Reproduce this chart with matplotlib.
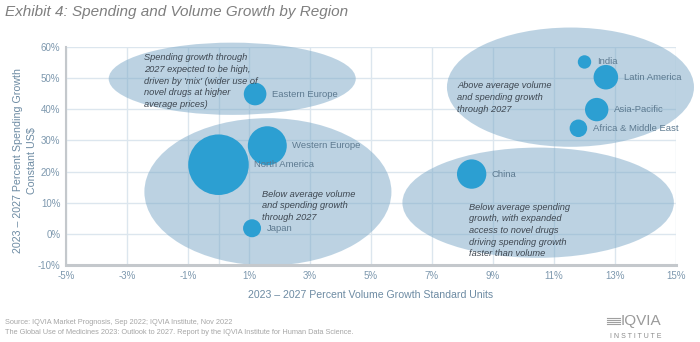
import matplotlib
matplotlib.use("Agg")
import matplotlib.pyplot as plt
from matplotlib.patches import Ellipse
import numpy as np

plt.rcParams['font.family'] = ['Liberation Sans', 'DejaVu Sans']

# bubble data: volume growth (x), spending growth (y), relative market size (area)
regions = ['North America', 'Western Europe', 'Eastern Europe', 'Japan', 'China',
           'India', 'Latin America', 'Asia-Pacific', 'Africa & Middle East']
volume_growth = [0.0, 1.6, 1.2, 1.1, 8.3, 12.0, 12.7, 12.4, 11.8]
spending_growth = [22.2, 28.3, 44.9, 1.8, 19.2, 55.2, 50.3, 39.9, 33.9]
market_size = [918, 380, 128, 81, 216, 45, 151, 137, 77]

# shaded zones: centre x, centre y, width, height (axis units)
zone_x = [0.45, 1.62, 11.54, 10.48]
zone_y = [49.8, 13.5, 47.1, 10.0]
zone_w = [8.1, 8.1, 8.1, 8.9]
zone_h = [23.2, 47.3, 38.3, 35.4]
zone_text = [
    "Spending growth through\n2027 expected to be high,\ndriven by 'mix' (wider use of\nnovel drugs at higher\naverage prices)",
    "Below average volume\nand spending growth\nthrough 2027",
    "Above average volume\nand spending growth\nthrough 2027",
    "Below average spending\ngrowth, with expanded\naccess to novel drugs\ndriving spending growth\nfaster than volume",
]
zone_text_x = [-2.43, 1.43, 7.83, 8.20]
zone_text_y = [58.0, 14.2, 49.0, 10.0]

x_ticks = [-5, -3, -1, 1, 3, 5, 7, 9, 11, 13, 15]
y_ticks = [-10, 0, 10, 20, 30, 40, 50, 60]

bubble_col = '#2c9fd2'
zone_col = '#7aa7c7'
grid_col = '#dce6ee'
tick_col = '#7d98ae'
label_col = '#5d7a90'

fig = plt.figure(figsize=(7, 3.42), dpi=100)
ax = fig.add_axes([66 / 700, 1 - 265 / 342, 610 / 700, 218 / 342])

ax.set_xlim(-5, 15)
ax.set_ylim(-10, 60)
ax.set_xticks(x_ticks)
ax.set_yticks(y_ticks)
ax.set_xticklabels(['%d%%' % t for t in x_ticks])
ax.set_yticklabels(['%d%%' % t for t in y_ticks])
ax.tick_params(length=0, labelsize=7, colors=tick_col, pad=4)

ax.grid(True, color=grid_col, linewidth=1, zorder=0)
ax.axvline(0, color=grid_col, linewidth=1, zorder=0)
ax.set_axisbelow(True)

for side in ['top', 'right']:
    ax.spines[side].set_visible(False)
ax.spines['left'].set_color('#c4c8cc')
ax.spines['left'].set_linewidth(1.5)
ax.spines['bottom'].set_color('#c4c8cc')
ax.spines['bottom'].set_linewidth(2.2)

for cx, cy, w, h in zip(zone_x, zone_y, zone_w, zone_h):
    e = Ellipse((cx, cy), w, h, facecolor=zone_col, edgecolor='none', alpha=0.5,
                zorder=1, clip_on=False)
    ax.add_patch(e)

for txt, tx, ty in zip(zone_text, zone_text_x, zone_text_y):
    ax.text(tx, ty, txt, fontsize=6.7, style='italic', color='#3d4650', va='top',
            ha='left', linespacing=1.38, zorder=4)

sizes = np.array(market_size) * 2.07
ax.scatter(volume_growth, spending_growth, s=sizes, color=bubble_col, edgecolors='none',
           zorder=3)

for name, vx, sy, sz in zip(regions, volume_growth, spending_growth, sizes):
    ax.annotate(name, (vx, sy), xytext=(np.sqrt(sz) / 2 + 4, 0), textcoords='offset points',
                fontsize=6.8, color=label_col, va='center', ha='left', zorder=4)

ax.set_xlabel('2023 – 2027 Percent Volume Growth Standard Units', fontsize=7.6,
              color='#6d8ba3', labelpad=7)
ax.set_ylabel('2023 – 2027 Percent Spending Growth\nConstant US$', fontsize=7.7,
              color='#6d8ba3', linespacing=1.55)
ax.yaxis.set_label_coords(-0.047, 0.48)

fig.text(5 / 700, 1 - 12 / 342, 'Exhibit 4: Spending and Volume Growth by Region',
         fontsize=11, style='italic', color='#7f7f7f', va='center', ha='left')

fig.text(5 / 700, 1 - 323 / 342, 'Source: IQVIA Market Prognosis, Sep 2022; IQVIA Institute, Nov 2022',
         fontsize=5.3, color='#a6a6a6', va='center')
fig.text(5 / 700, 1 - 333 / 342,
         'The Global Use of Medicines 2023: Outlook to 2027. Report by the IQVIA Institute for Human Data Science.',
         fontsize=5.3, color='#a6a6a6', va='center')

# logo
for i in range(4):
    yy = 1 - (318 + i * 2) / 342
    fig.add_artist(plt.Line2D([607 / 700, 620 / 700], [yy, yy], color='#a0a0a0',
                              linewidth=0.8, transform=fig.transFigure))
fig.text(621 / 700, 1 - 321 / 342, 'IQVIA', fontsize=11, color='#9a9a9a', va='center',
         ha='left', fontweight='light')
fig.text(610 / 700, 1 - 337 / 342, 'I N S T I T U T E', fontsize=5, color='#8a8a8a',
         va='center', ha='left')

fig.savefig('out.png', dpi=100)
